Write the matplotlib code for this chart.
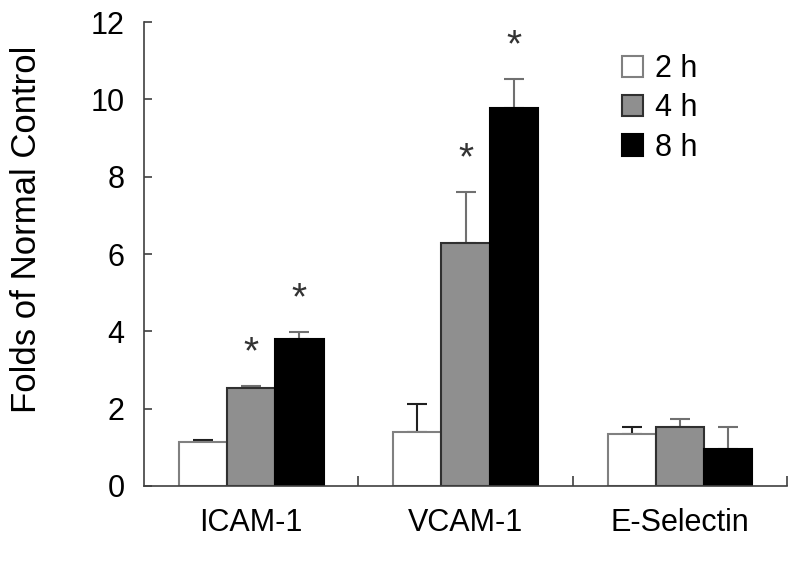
import numpy as np
import matplotlib
matplotlib.use('Agg')
import matplotlib.pyplot as plt

plt.rcParams['font.family'] = ['Liberation Sans', 'DejaVu Sans']

categories = ['ICAM-1', 'VCAM-1', 'E-Selectin']
series = ['2 h', '4 h', '8 h']
means = {
    '2 h': [1.14, 1.40, 1.34],
    '4 h': [2.53, 6.28, 1.53],
    '8 h': [3.80, 9.77, 0.96],
}
errs = {
    '2 h': [0.06, 0.72, 0.19],
    '4 h': [0.05, 1.32, 0.20],
    '8 h': [0.18, 0.75, 0.57],
}
# significance marks (* above bar)
signif = {
    '2 h': [False, False, False],
    '4 h': [True, True, False],
    '8 h': [True, True, False],
}

fills = {'2 h': 'white', '4 h': '#8f8f8f', '8 h': 'black'}
edges = {'2 h': '#808080', '4 h': '#303030', '8 h': 'black'}
ecols = {'2 h': '#202020', '4 h': '#707070', '8 h': '#707070'}

fig = plt.figure(figsize=(8, 5.69), dpi=100)
ax = fig.add_axes([0.18, 0.146, 0.804, 0.815])

x = np.arange(len(categories))
w = 0.225
for i, s in enumerate(series):
    pos = x + (i - 1) * w
    ax.bar(pos, means[s], w, color=fills[s], edgecolor=edges[s], linewidth=1.5, label=s, zorder=2)
    ax.errorbar(pos, means[s], yerr=[np.zeros(3), errs[s]], fmt='none',
                ecolor=ecols[s], elinewidth=1.5, capsize=7, capthick=1.5, zorder=1)
    for j in range(3):
        if signif[s][j]:
            ax.text(pos[j], means[s][j] + errs[s][j] + 0.85, '*', ha='center', va='center',
                    fontsize=28, color='#333333')

ax.set_xlim(-0.5, 2.5)
ax.set_ylim(0, 12)
ax.set_yticks(range(0, 13, 2))
ax.set_xticks(x)
ax.set_xticklabels(categories)
ax.set_xticks([0.5, 1.5, 2.5], minor=True)
ax.tick_params(axis='x', which='major', length=0, pad=16, labelsize=22)
ax.tick_params(axis='x', which='minor', direction='in', length=7, width=1.2, color='#404040')
ax.tick_params(axis='y', direction='in', length=6, width=1.2, color='#404040', pad=14, labelsize=22)
for sp in ['top', 'right']:
    ax.spines[sp].set_visible(False)
for sp in ['left', 'bottom']:
    ax.spines[sp].set_color('#404040')
    ax.spines[sp].set_linewidth(1.2)
ax.set_ylabel('Folds of Normal Control', fontsize=25)
ax.yaxis.set_label_coords(-0.157, 0.554)

ax.legend(loc='upper left', bbox_to_anchor=(0.70, 0.99), frameon=False, fontsize=22,
          handlelength=0.7, handleheight=0.7, handletextpad=0.4, labelspacing=0.3)

fig.savefig('out.png', dpi=100)
